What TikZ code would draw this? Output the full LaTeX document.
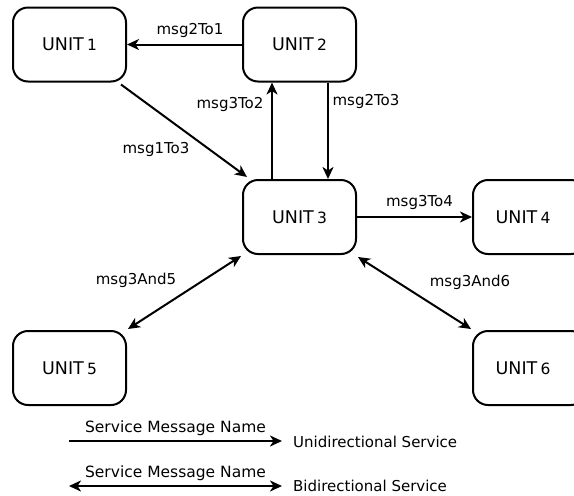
\documentclass[tikz,border=0pt]{standalone}
\usepackage{fontspec}
\setmainfont{DejaVu Sans}
\usetikzlibrary{arrows.meta}
\tikzset{
  unit/.style={draw=black, line width=2pt, rounded corners=15pt, minimum width=113pt, minimum height=74pt, inner sep=0pt},
  tip/.tip={Stealth[length=12pt,width=11pt,inset=3.5pt]},
  uni/.style={line width=2pt, -tip},
  bi/.style={line width=2pt, tip-tip},
  lbl/.style={font=\fontsize{15}{17}\selectfont, inner sep=0pt},
  leg/.style={font=\fontsize{15.5}{18}\selectfont, inner sep=0pt}
}
\newcommand{\unitlabel}[1]{{\fontsize{17.5}{20}\selectfont UNIT} {\fontsize{15.5}{18}\selectfont #1}}
\begin{document}
\begin{tikzpicture}[x=1pt,y=-1pt]
\useasboundingbox (0,0) rectangle (574,496);
\clip (0,0) rectangle (574,496);
\fill[white] (0,0) rectangle (574,496);
\node[unit] (u1) at (69.5,44.5) {\unitlabel{1}};
\node[unit] (u2) at (299.5,44.5) {\unitlabel{2}};
\node[unit] (u3) at (299.5,217) {\unitlabel{3}};
\node[unit] (u4) at (529.5,217) {\hspace*{-13pt}\unitlabel{4}};
\node[unit] (u5) at (69.5,368) {\unitlabel{5}};
\node[unit] (u6) at (529.5,368) {\hspace*{-13pt}\unitlabel{6}};

\draw[uni] (u2.west) -- (u1.east);
\draw[uni] ([shift={(-6,2)}]u1.south east) -- ([shift={(5,-2)}]u3.north west);
\draw[uni] ([xshift=-27.5pt]u3.north) -- ([xshift=-27.5pt]u2.south);
\draw[uni] ([xshift=28.5pt]u2.south) -- ([xshift=28.5pt]u3.north);
\draw[uni] (u3.east) -- (u4.west);
\draw[bi] ([shift={(1,2)}]u3.south east) -- ([shift={(-1,-1)}]u6.north west);
\draw[bi] ([shift={(-1,1)}]u3.south west) -- ([shift={(1,-1)}]u5.north east);

\node[lbl] (l21) at (190,30) {msg2To1};
\node[lbl] (l13) at (156,149) {msg1To3};
\node[lbl] (l32) at (230,104) {msg3To2};
\node[lbl] (l23) at (366,101) {msg2To3};
\node[lbl] (l34) at (419.5,202) {msg3To4};
\node[lbl] (l36) at (470,282) {msg3And6};
\node[lbl] (l35) at (136,280) {msg3And5};

\coordinate (a1) at (69,441);
\coordinate (b1) at (282,441);
\coordinate (a2) at (69,486);
\coordinate (b2) at (282,486);
\draw[uni] (a1) -- (b1);
\draw[bi] (a2) -- (b2);
\node[leg] (s1) at (175.5,428) {Service Message Name};
\node[leg] (s2) at (175.5,473) {Service Message Name};
\node[lbl, anchor=west] (t1) at (293,442) {Unidirectional Service};
\node[lbl, anchor=west] (t2) at (293,486) {Bidirectional Service};
\end{tikzpicture}
\end{document}
